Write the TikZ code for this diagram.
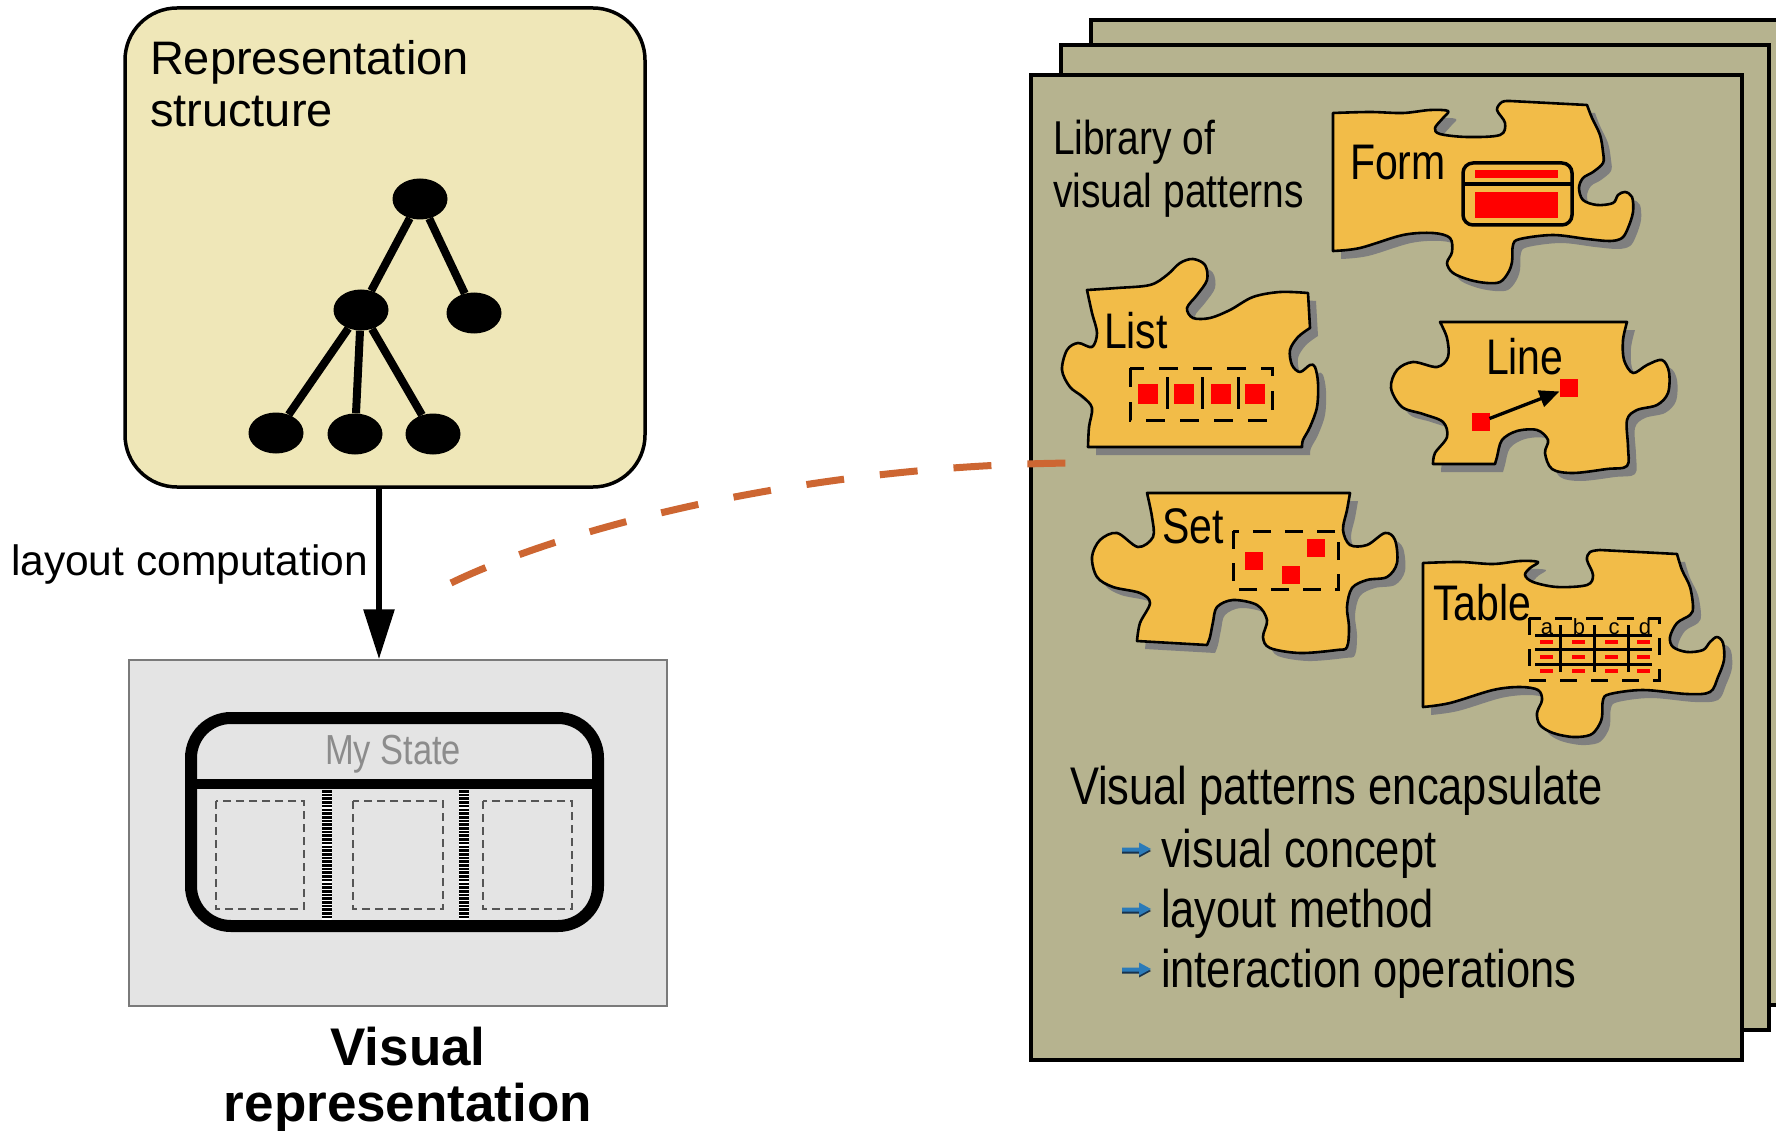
\documentclass[tikz,border=0pt]{standalone}
\usepackage{fontspec}
\setmainfont{Liberation Sans}
\newfontfamily\narrowfont[FakeStretch=0.82]{Liberation Sans}
\usetikzlibrary{arrows.meta,shapes.geometric}

\definecolor{structfill}{HTML}{EFE7B8}
\definecolor{pagefill}{HTML}{B6B38F}
\definecolor{piecefill}{HTML}{F2BC48}
\definecolor{shadowgray}{HTML}{7F7F7F}
\definecolor{linkorange}{HTML}{CD6632}
\definecolor{viewfill}{HTML}{E4E4E4}
\definecolor{viewedge}{HTML}{7A7A7A}
\definecolor{titlegray}{HTML}{8C8C8C}
\definecolor{slotgray}{HTML}{555555}
\definecolor{bulletblue}{HTML}{2B7BB9}
\definecolor{bulletdark}{HTML}{17324D}
\definecolor{patred}{HTML}{FF0000}

\newcommand\setfs[1]{\fontsize{#1}{#1}\selectfont}

% puzzle piece outlines
\def\formoutline{(1333,251) -- (1333,113) -- plot[smooth,tension=.55] coordinates{(1333,113) (1370,112) (1403,113) (1430,110) (1448,111) (1443,118) (1435,128) (1440,134) (1467,137) (1500,135) (1505,123) (1497,110) (1502,102) (1510,101)} -- (1587,105) -- plot[smooth,tension=.55] coordinates{(1587,105) (1592,118) (1600,135) (1603,152) (1603,163) (1593,172) (1583,178) (1579,188) (1583,200) (1597,205) (1613,203) (1618,195) (1625,192) (1632,197) (1633,212) (1628,228) (1622,238) (1610,241) (1587,239) (1553,235) (1520,239) (1513,245) (1512,262) (1508,273) (1500,282) (1487,283) (1470,280) (1453,273) (1447,263) (1452,252) (1450,238) (1433,233) (1403,235) (1360,248) (1333,251)} -- cycle}
\def\listoutline{(1087,290) -- plot[smooth,tension=.55] coordinates{(1087,290) (1117,288) (1150,285) (1167,275) (1180,263) (1193,259) (1205,265) (1207,280) (1197,295) (1187,308) (1193,318) (1210,318) (1230,310) (1253,297) (1280,292) (1308,293)} -- (1310,328) -- plot[smooth,tension=.55] coordinates{(1310,328) (1298,337) (1290,350) (1292,365) (1300,372) (1310,365) (1315,367) (1318,383) (1317,407) (1310,427) (1303,440) (1302,447)} -- (1088,447) -- plot[smooth,tension=.55] coordinates{(1088,447) (1089,427) (1092,408) (1083,397) (1070,387) (1062,370) (1067,350) (1078,343) (1092,347) (1097,333) (1092,313) (1087,290)} -- cycle}
\def\lineoutline{(1440,322) -- (1627,322) -- plot[smooth,tension=.55] coordinates{(1627,322) (1623,340) (1624,360) (1633,373) (1647,365) (1662,360) (1669,372) (1668,393) (1657,405) (1637,410) (1627,420) (1628,447) (1627,466) (1607,469) (1573,473) (1552,469) (1545,453) (1548,440) (1537,430) (1517,431) (1502,440) (1497,457) (1495,464)} -- (1433,464) -- plot[smooth,tension=.55] coordinates{(1433,464) (1435,453) (1447,437) (1443,422) (1423,414) (1402,407) (1391,388) (1397,370) (1413,362) (1437,367) (1448,357) (1447,338) (1440,322)} -- cycle}
\def\setoutline{(1147,493) -- (1350,493) -- plot[smooth,tension=.55] coordinates{(1350,493) (1347,510) (1343,530) (1350,545) (1367,545) (1385,533) (1395,540) (1397,563) (1387,577) (1367,580) (1352,588) (1347,607) (1349,627) (1347,647) (1337,650) (1300,653) (1270,648) (1263,637) (1267,620) (1257,605) (1233,600) (1217,607) (1213,622) (1210,637) (1207,645)} -- (1137,641) -- plot[smooth,tension=.55] coordinates{(1137,641) (1140,623) (1150,603) (1140,593) (1113,587) (1097,577) (1092,557) (1100,540) (1117,533) (1138,547) (1153,537) (1152,517) (1147,493)} -- cycle}
\def\tableoutline{(1423,707) -- (1423,563) -- plot[smooth,tension=.55] coordinates{(1423,563) (1460,562) (1493,564) (1520,561) (1538,562) (1530,568) (1525,575) (1533,582) (1557,587) (1587,585) (1593,575) (1587,560) (1590,552) (1600,550)} -- (1677,554) -- plot[smooth,tension=.55] coordinates{(1677,554) (1682,570) (1690,587) (1693,607) (1690,615) (1677,623) (1670,637) (1673,647) (1687,652) (1703,650) (1710,642) (1717,637) (1723,643) (1724,660) (1718,677) (1710,692) (1687,694) (1643,690) (1610,694) (1603,700) (1602,717) (1598,727) (1590,735) (1573,737) (1553,733) (1540,725) (1537,713) (1542,700) (1538,690) (1520,687) (1493,690) (1450,703) (1423,707)} -- cycle}

\begin{document}
\begin{tikzpicture}[x=1pt,y=-1pt,
  lbl/.style={inner sep=0pt,outer sep=0pt,anchor=base west},
  treenode/.style={ellipse,fill=black,inner sep=0pt,minimum width=55pt,minimum height=41pt},
  treeedge/.style={line width=8pt},
  pageframe/.style={draw=black,line width=4pt,fill=pagefill},
  piece/.style={fill=piecefill,draw=black,line width=2.6pt,line join=round},
  pieceshadow/.style={fill=shadowgray,shift={(8,8)}},
  piecelabel/.style={lbl,font={\narrowfont\setfs{50}}},
  bigtext/.style={lbl,font={\narrowfont\setfs{53}}},
  redsq/.style={fill=patred,inner sep=0pt,outer sep=0pt,minimum size=#1},
  patdash/.style={line width=3pt,dash pattern=on 18pt off 14pt},
  slot/.style={draw=slotgray,line width=1.1pt,dash pattern=on 8pt off 5pt},
  stripe/.style={line width=10pt,dash pattern=on 2.6pt off 1.1pt},
]
\useasboundingbox (0,0) rectangle (1776,1131);

% ---------- representation structure ----------
\node[draw=black,line width=3.5pt,fill=structfill,rounded corners=52pt,
      minimum width=520pt,minimum height=479pt,inner sep=0pt] (repbox) at (385,247.5) {};
\node[lbl,font=\setfs{47}] (reptitle) at (150,75) {Representation};
\node[lbl,font=\setfs{47}] (repsub) at (150,127) {structure};

\node[treenode] (root) at (420,199) {};
\node[treenode] (mid) at (361,310) {};
\node[treenode] (rightleaf) at (474,313) {};
\node[treenode] (leafa) at (276,433) {};
\node[treenode] (leafb) at (355,434) {};
\node[treenode] (leafc) at (433,434) {};
\draw[treeedge] (root) -- (mid);
\draw[treeedge] (root) -- (rightleaf);
\draw[treeedge] (mid) -- (leafa);
\draw[treeedge] (mid) -- (leafb);
\draw[treeedge] (mid) -- (leafc);

% ---------- visual representation ----------
\node[draw=viewedge,fill=viewfill,line width=1.5pt,minimum width=538pt,
      minimum height=346pt,inner sep=0pt] (viewbox) at (398,833) {};

\coordinate (arrowx) at (379,0);
\draw[line width=6pt,-{Triangle[length=50pt,width=30pt]}]
  (repbox.south -| arrowx) -- (viewbox.north -| arrowx);
\node[inner sep=0pt,anchor=base east,font=\setfs{42.5}] (layoutlbl) at (368,575) {layout computation};

% state box with three slots
\fill[white] (322,790) rectangle (332,920);
\fill[white] (459,790) rectangle (469,920);
\draw[stripe] (327,790) -- (327,920);
\draw[stripe] (464,790) -- (464,920);
\draw[slot] (216,801) rectangle (304,909);
\draw[slot] (353,801) rectangle (443,909);
\draw[slot] (483,801) rectangle (572,909);
\draw[line width=12pt,rounded corners=40pt] (191,718) rectangle (598,926);
\draw[line width=10pt] (191,784) -- (598,784);
\node[inner sep=0pt,anchor=base,font={\narrowfont\setfs{42}},text=titlegray] (statename) at (393,764) {My State};

\node[inner sep=0pt,anchor=base,font={\bfseries\setfs{53}}] (viewtitle) at (408,1065) {Visual};
\node[inner sep=0pt,anchor=base,font={\bfseries\setfs{53}}] (viewsub) at (408,1121) {representation};

% ---------- stack of library pages ----------
\begin{scope}
\clip (0,0) rectangle (1776,1131);
\draw[pageframe] (1091,20) rectangle (1800,1005);
\draw[pageframe] (1061,45) rectangle (1769,1030);
\draw[pageframe] (1031,75) rectangle (1742,1060);
\end{scope}

% link from the view to the pattern library
\coordinate (linkstart) at (451,583);
\coordinate (linkend) at (1075,463);
\draw[linkorange,line width=7pt,dash pattern=on 38pt off 36pt]
  (linkstart) .. controls (560,530) and (800,465) .. (linkend);

\node[lbl,font={\narrowfont\setfs{47.5}}] (libtitle) at (1053,155) {Library of};
\node[lbl,font={\narrowfont\setfs{47.5}}] (libsub) at (1053,208) {visual patterns};

% Form piece
\fill[pieceshadow] \formoutline;
\filldraw[piece] \formoutline;
\node[piecelabel] (formlbl) at (1350,180) {Form};
\fill[patred] (1475,170) rectangle (1558,178);
\fill[patred] (1475,192) rectangle (1558,218);
\draw[line width=3.5pt,rounded corners=10pt] (1463,163) rectangle (1572,225);
\draw[line width=3.5pt] (1463,184) -- (1572,184);

% List piece
\fill[pieceshadow] \listoutline;
\filldraw[piece] \listoutline;
\node[piecelabel] (listlbl) at (1104,348) {List};
\draw[patdash,dash pattern=on 19pt off 15pt] (1130,368) rectangle (1272,420);
\foreach \xx in {1167,1202,1238} \draw[line width=3pt] (\xx,377) -- (\xx,409);
\foreach \xx/\nm in {1148/a,1184/b,1221/c,1255/d}
  \node[redsq=20pt] (list\nm) at (\xx,393.5) {};

% Line piece
\fill[pieceshadow] \lineoutline;
\filldraw[piece] \lineoutline;
\node[piecelabel] (linelbl) at (1486,374) {Line};
\node[redsq=18pt] (linefrom) at (1480.5,422) {};
\node[redsq=18pt] (lineto) at (1568.5,388) {};
\draw[line width=3.3pt,-{Triangle[length=20pt,width=17pt]}] (linefrom) -- (lineto);

% Set piece
\fill[pieceshadow] \setoutline;
\filldraw[piece] \setoutline;
\node[piecelabel] (setlbl) at (1162,543) {Set};
\draw[patdash] (1233,531) rectangle (1338,589);
\node[redsq=18pt] (seta) at (1253.5,561) {};
\node[redsq=18pt] (setb) at (1290.5,574.5) {};
\node[redsq=18pt] (setc) at (1315.5,547.5) {};

% Table piece
\fill[pieceshadow] \tableoutline;
\filldraw[piece] \tableoutline;
\node[piecelabel] (tablelbl) at (1433,620) {Table};
\draw[patdash,dash pattern=on 17pt off 14pt] (1529,618) rectangle (1659,680);
\foreach \yy in {642,657,671}
  \foreach \xx in {1546,1578,1611,1643}
    \fill[patred] (\xx-6.5,\yy-2) rectangle (\xx+6.5,\yy+2);
\foreach \yy in {635,649,664} \draw[line width=3pt] (1535,\yy) -- (1652,\yy);
\foreach \xx in {1560,1594,1628} \draw[line width=3pt] (\xx,625) -- (\xx,672);
\foreach \xx/\ch in {1547/a,1579/b,1614/c,1645/d}
  \node[inner sep=0pt,anchor=base,font=\setfs{22}] (col\ch) at (\xx,634) {\ch};

% summary
\node[bigtext] (summary) at (1070,804) {Visual patterns encapsulate};
\foreach \yy/\nm/\txt in {867/concept/visual concept,927/method/layout method,987/ops/interaction operations}{
  \begin{scope}[yshift=-(\yy-18)*1pt]
    \fill[bulletdark] (1122,1.5) -- (1139,1.5) -- (1139,-4.5) -- (1151,2) -- (1139,8.5) -- (1139,4.5) -- (1122,4.5) -- cycle;
    \fill[bulletblue] (1122,-1.5) -- (1139,-1.5) -- (1139,-6.5) -- (1151,0) -- (1139,6.5) -- (1139,2.5) -- (1122,2.5) -- cycle;
  \end{scope}
  \node[bigtext] (item\nm) at (1161,\yy) {\txt};
}
\end{tikzpicture}
\end{document}
